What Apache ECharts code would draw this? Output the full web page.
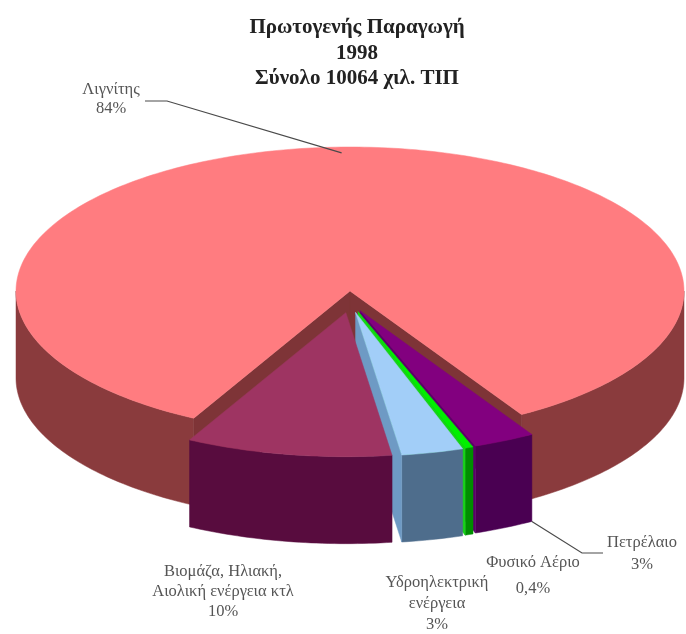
<!DOCTYPE html>
<html>
<head>
<meta charset="utf-8">
<script src="https://cdn.jsdelivr.net/npm/echarts@6/dist/echarts.min.js"></script>
<style>
  html, body { margin: 0; padding: 0; background: #ffffff; }
  #chart { width: 686px; height: 634px; }
</style>
</head>
<body>
<div id="chart"></div>
<script>
// Primary energy production, Greece 1998 (share of total, %)
const categories = [
  'Λιγνίτης',
  'Πετρέλαιο',
  'Φυσικό Αέριο',
  'Υδροηλεκτρική\nενέργεια',
  'Βιομάζα, Ηλιακή,\nΑιολική ενέργεια κτλ'
];
const shares = [84, 3, 0.4, 3, 10];
const titleLines = ['Πρωτογενής Παραγωγή', '1998', 'Σύνολο 10064 χιλ. ΤΙΠ'];

// Slice colours: top face, outer wall, cut (radial) wall
const topColors  = ['#FF7C80', '#82007F', '#00F000', '#A2CEF8', '#9E3462'];
const sideColors = ['#8A3B3D', '#4A0052', '#008E00', '#4E6D8C', '#580C3E'];
const cutColors  = ['#7E3437', '#5C006A', '#18D418', '#6E9AC4', '#6E1A4C'];
const exploded   = [false, true, true, true, true];

// Pseudo-3D pie geometry (ellipse seen from above, with a wall depth)
const pie = { cx: 350, cy: 291, rx: 334, ry: 144, depth: 87, explodeX: 24, explodeY: 22, frontAngle: 88.5 };

// Label placement: centre x, centre y of first line, line height
const labelLayout = [
  { x: 111, y: 90,  lh: 19, leader: { from: 'topMid', via: [[167, 101], [145, 101]] } },
  { x: 642, y: 543, lh: 22, leader: { from: 'bottomStart', via: [[582, 553], [603, 553]] } },
  { x: 533, y: 563, lh: 26 },
  { x: 437, y: 583, lh: 21 },
  { x: 223, y: 572, lh: 20 }
];

const RAD = Math.PI / 180;
const total = shares.reduce((a, b) => a + b, 0);
const restShare = total - shares[0];
// The smaller sources sit together, centred on the front of the pie
const startAngle = pie.frontAngle - restShare / total * 180 - shares[0] / total * 360;

function sliceAngles(i) {
  let cum = 0;
  for (let k = 0; k < i; k++) cum += shares[k];
  let a1 = startAngle + cum / total * 360;
  let a2 = a1 + shares[i] / total * 360;
  while (a1 < 0) { a1 += 360; a2 += 360; }
  return [a1, a2];
}

function pct(v) {
  return String(v).replace('.', ',') + '%';
}

function renderItem(params, api) {
  const i = params.dataIndex;
  const value = api.value(0);
  const [a1, a2] = sliceAngles(i);
  const mid = (a1 + a2) / 2;
  const ox = exploded[i] ? pie.explodeX * Math.cos(mid * RAD) : 0;
  const oy = exploded[i] ? pie.explodeY * Math.sin(mid * RAD) : 0;
  const P = (deg, dz, rf) => {
    const r = rf === undefined ? 1 : rf;
    return [pie.cx + ox + r * pie.rx * Math.cos(deg * RAD),
            pie.cy + oy + r * pie.ry * Math.sin(deg * RAD) + dz];
  };
  const C = dz => [pie.cx + ox, pie.cy + oy + dz];
  // painter's order: the big slice first, then the front slices from right to left
  const rank = i;
  const children = [];

  // outer wall, front half only
  [[0, 180], [360, 540]].forEach(([lo, hi]) => {
    const s = Math.max(a1, lo), e = Math.min(a2, hi);
    if (e <= s) return;
    const n = Math.max(2, Math.ceil(e - s));
    const pts = [];
    for (let k = 0; k <= n; k++) pts.push(P(s + (e - s) * k / n, 0));
    for (let k = n; k >= 0; k--) pts.push(P(s + (e - s) * k / n, pie.depth));
    children.push({ type: 'polygon', z2: rank * 10 + 1, shape: { points: pts },
      style: { fill: sideColors[i], stroke: sideColors[i], lineWidth: 0.5 } });
  });

  // radial cut walls that face the viewer
  const cutWall = a => ({ type: 'polygon', z2: rank * 10 + 2,
    shape: { points: [C(0), P(a, 0), P(a, pie.depth), C(pie.depth)] },
    style: { fill: cutColors[i], stroke: cutColors[i], lineWidth: 0.5 } });
  if (Math.cos(a1 * RAD) < 0) children.push(cutWall(a1));
  if (Math.cos(a2 * RAD) > 0) children.push(cutWall(a2));

  // top face
  const n = Math.max(2, Math.ceil(a2 - a1));
  const top = [C(0)];
  for (let k = 0; k <= n; k++) top.push(P(a1 + (a2 - a1) * k / n, 0));
  children.push({ type: 'polygon', z2: rank * 10 + 3, shape: { points: top },
    style: { fill: topColors[i], stroke: topColors[i], lineWidth: 0.5 } });

  // label
  const lay = labelLayout[i];
  const lines = categories[i].split('\n').concat([pct(value)]);
  lines.forEach((t, k) => {
    children.push({ type: 'text', z2: 200,
      style: { text: t, x: lay.x, y: lay.y + k * lay.lh, align: 'center', verticalAlign: 'middle',
        font: '16.5px "Liberation Serif", "DejaVu Serif", serif', fill: '#555555' } });
  });

  if (lay.leader) {
    const start = lay.leader.from === 'topMid' ? P(mid, 0, 0.96) : P(a1, pie.depth);
    children.push({ type: 'polyline', z2: 190,
      shape: { points: [start].concat(lay.leader.via) },
      style: { stroke: '#4a4a4a', lineWidth: 1.2, fill: null } });
  }

  return { type: 'group', children };
}

const chart = echarts.init(document.getElementById('chart'), null, { renderer: 'canvas' });
chart.setOption({
  backgroundColor: '#ffffff',
  animation: false,
  graphic: titleLines.map((t, k) => ({
    type: 'text',
    silent: true,
    x: 357,
    y: 28 + k * 25.5,
    style: {
      text: t,
      align: 'center',
      verticalAlign: 'middle',
      font: 'bold 21px "Liberation Serif", "DejaVu Serif", serif',
      fill: '#222222'
    }
  })),
  series: [{
    type: 'custom',
    coordinateSystem: 'none',
    silent: true,
    data: shares.map((v, i) => ({ name: categories[i], value: [v, i] })),
    renderItem: renderItem
  }]
});
</script>
</body>
</html>
